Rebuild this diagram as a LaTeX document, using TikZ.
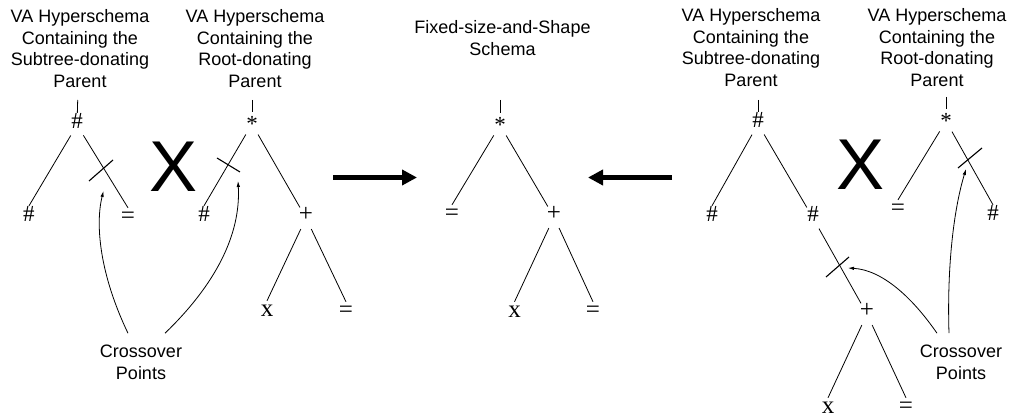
\documentclass[tikz,border=0pt]{standalone}
\usepackage{fontspec}
\setmainfont{Liberation Serif}
\newfontfamily\labelsans{Liberation Sans}
\usetikzlibrary{arrows.meta}

% asterisk lowered to sit nearer the middle of its node
\newcommand{\lowstar}{\raisebox{-4pt}{*}}

\begin{document}
\begin{tikzpicture}[x=1pt,y=-1pt,
  sym/.style={circle, inner sep=0pt, minimum size=24pt, text height=0.68em, text depth=0pt,
              font=\fontsize{23}{23}\selectfont},
  opsym/.style={sym, text height=0.62em, font=\fontsize{25}{25}\selectfont},
  edge/.style={line width=0.8pt},
  cut/.style={line width=1.1pt},
  title/.style={align=center, anchor=base, inner sep=0pt,
                font=\labelsans\fontsize{18}{21.7}\selectfont},
  bigx/.style={inner sep=0pt, font=\labelsans\fontsize{72}{72}\selectfont},
  bigarrow/.style={line width=5pt, -{Triangle[length=15pt,width=15pt]}},
  pointer/.style={line width=0.8pt, -{Latex[length=6pt,width=3.5pt]}}
]
\useasboundingbox (0,0) rectangle (1013,419);

% ---------- titles (anchored on the baseline of their last line) ----------
\node[title] (h1) at (80,87.5)  {VA Hyperschema\\Containing the\\Subtree-donating\\Parent};
\node[title] (h2) at (255,87.5) {VA Hyperschema\\Containing the\\Root-donating\\Parent};
\node[title, font=\labelsans\fontsize{18}{22.7}\selectfont] (hc) at (502.5,56) {Fixed-size-and-Shape\\Schema};
\node[title] (h3) at (751,86.5) {VA Hyperschema\\Containing the\\Subtree-donating\\Parent};
\node[title] (h4) at (937,86.5) {VA Hyperschema\\Containing the\\Root-donating\\Parent};

% ---------- tree 1: subtree-donating parent ----------
\coordinate (t1top) at (77.7,100);
\node[sym] (t1root) at (77,125) {\#};
\node[sym] (t1l) at (29,218) {\#};
\node[opsym] (t1r) at (128,220) {=};
\draw[edge] (t1top) -- (t1root);
\draw[edge] (t1root) -- (t1l.north);
\draw[edge] (t1root) -- (t1r.north);
\coordinate (k1a) at (89,181);
\coordinate (k1b) at (113,160);
\draw[cut] (k1a) -- (k1b);

\node[bigx] (x1) at (174,167) {X};

% ---------- tree 2: root-donating parent ----------
\coordinate (t2top) at (252,100);
\node[sym] (t2root) at (252,124) {\lowstar};
\node[sym] (t2l) at (204,218) {\#};
\node[opsym] (t2r) at (306,218) {+};
\node[opsym] (t2rl) at (267,313) {x};
\node[opsym] (t2rr) at (346,314) {=};
\draw[edge] (t2top) -- (t2root);
\draw[edge] (t2root) -- (t2l.north);
\draw[edge] (t2root) -- (t2r);
\draw[edge] (t2r) -- (t2rl.north);
\draw[edge] (t2r) -- (t2rr.north);
\coordinate (k2a) at (217,158);
\coordinate (k2b) at (240,172);
\draw[cut] (k2a) -- (k2b);

% ---------- crossover labels, left ----------
\node[title, font=\labelsans\fontsize{18}{22}\selectfont] (cpL) at (141,380) {Crossover\\Points};
\coordinate (p1) at (103.5,191);
\coordinate (p2) at (238,181);
\draw[pointer] ([shift={(-13,-12)}]cpL.north) .. controls (100,275) and (95,225) .. (p1);
\draw[pointer] ([shift={(24,-12)}]cpL.north) .. controls (215,285) and (241,235) .. (p2);

% ---------- big arrows ----------
\coordinate (a1s) at (333,177.5);
\coordinate (a1e) at (417,177.5);
\coordinate (a2s) at (672,177.5);
\coordinate (a2e) at (588,177.5);
\draw[bigarrow] (a1s) -- (a1e);
\draw[bigarrow] (a2s) -- (a2e);

% ---------- centre tree: fixed-size-and-shape schema ----------
\coordinate (ctop) at (500,100);
\node[sym] (croot) at (500,125) {\lowstar};
\node[opsym] (cl) at (452,217) {=};
\node[opsym] (cr) at (554,217) {+};
\node[opsym] (crl) at (514.5,314) {x};
\node[opsym] (crr) at (593,314) {=};
\draw[edge] (ctop) -- (croot);
\draw[edge] (croot) -- (cl.north);
\draw[edge] (croot) -- (cr);
\draw[edge] (cr) -- (crl.north);
\draw[edge] (cr) -- (crr.north);

% ---------- tree 3: subtree-donating parent ----------
\coordinate (t3top) at (758,100);
\node[sym] (t3root) at (758,124) {\#};
\node[sym] (t3l) at (712,218) {\#};
\node[sym] (t3r) at (813,218) {\#};
\node[opsym] (t3rc) at (867,314) {+};
\node[opsym] (t3rcl) at (828,410) {x};
\node[opsym] (t3rcr) at (906,410) {=};
\draw[edge] (t3top) -- (t3root);
\draw[edge] (t3root) -- (t3l.north);
\draw[edge] (t3root) -- (t3r);
\draw[edge] (t3r) -- (t3rc);
\draw[edge] (t3rc) -- (t3rcl.north);
\draw[edge] (t3rc) -- (t3rcr.north);
\coordinate (k3a) at (826,277);
\coordinate (k3b) at (849,257);
\draw[cut] (k3a) -- (k3b);

\node[bigx] (x2) at (861,165) {X};

% ---------- tree 4: root-donating parent ----------
\coordinate (t4top) at (946,97);
\node[sym] (t4root) at (946,121) {\lowstar};
\node[opsym] (t4l) at (898,212) {=};
\node[sym] (t4r) at (993,217) {\#};
\draw[edge] (t4top) -- (t4root);
\draw[edge] (t4root) -- (t4l.north);
\draw[edge] (t4root) -- (t4r.north);
\coordinate (k4a) at (958,168);
\coordinate (k4b) at (982,148);
\draw[cut] (k4a) -- (k4b);

% ---------- crossover labels, right ----------
\node[title, font=\labelsans\fontsize{18}{22}\selectfont] (cpR) at (961,380) {Crossover\\Points};
\coordinate (p3) at (848,268);
\coordinate (p4) at (966,169);
\draw[pointer] ([shift={(-24,-12)}]cpR.north) .. controls (912,297) and (882,270) .. (p3);
\draw[pointer] ([shift={(-12,-12)}]cpR.north) .. controls (947,270) and (953,212) .. (p4);
\end{tikzpicture}
\end{document}
